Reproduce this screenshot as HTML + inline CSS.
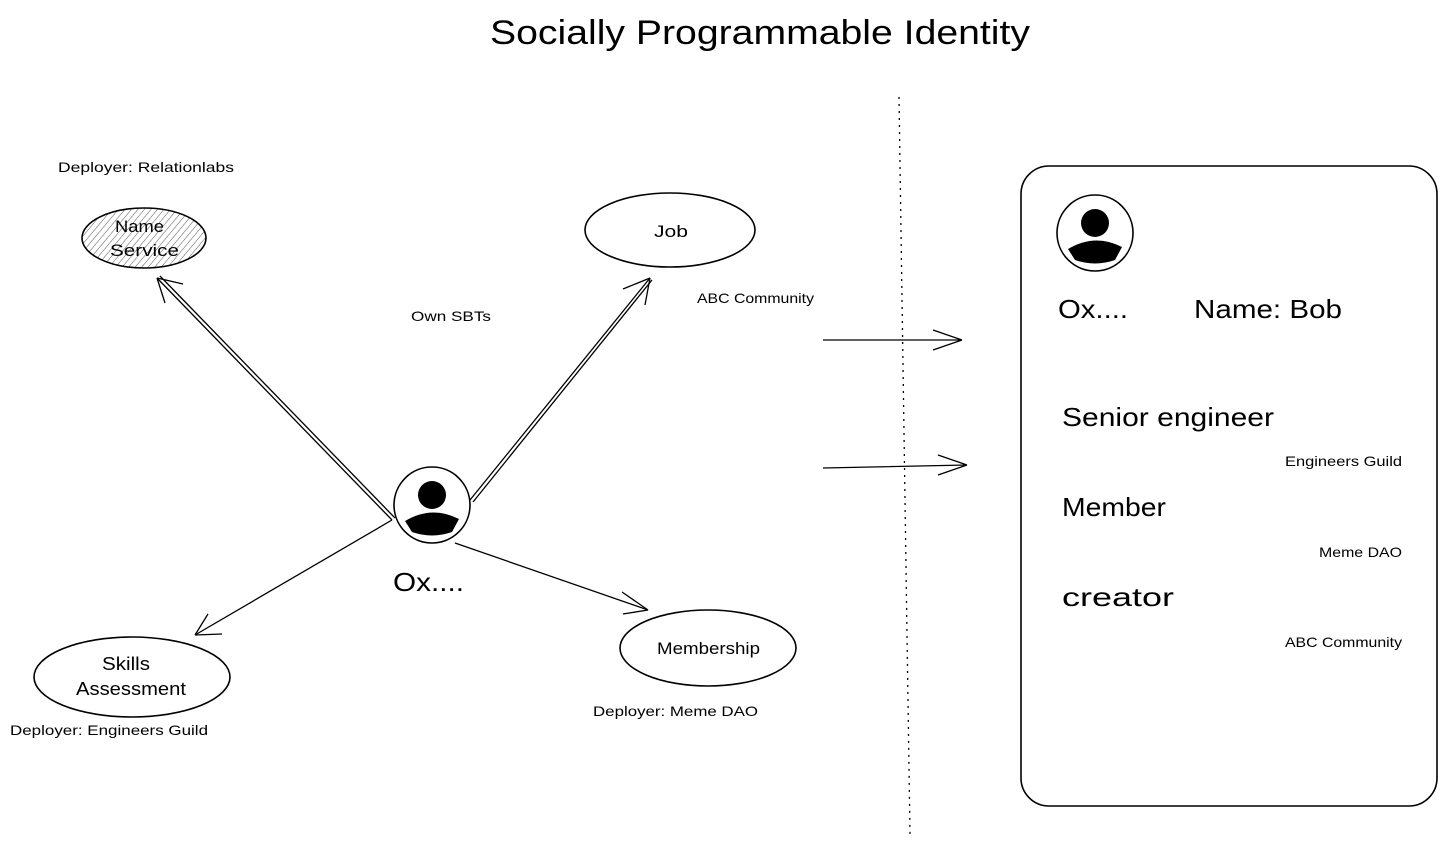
<!DOCTYPE html>
<html><head><meta charset="utf-8"><style>
html,body{margin:0;padding:0;background:#fff;}
svg{display:block;}
text{font-family:"Liberation Sans",sans-serif;fill:#000;}
</style></head><body>
<svg width="1446" height="846" viewBox="0 0 1446 846" xmlns="http://www.w3.org/2000/svg">
<defs>
<pattern id="h" width="5" height="5" patternUnits="userSpaceOnUse" patternTransform="rotate(40)">
<line x1="0" y1="0" x2="0" y2="5" stroke="#555" stroke-width="1"/>
</pattern>
<g id="av">
<circle cx="0" cy="0" r="38" fill="none" stroke="#000" stroke-width="1.6"/>
<circle cx="0" cy="-10" r="14" fill="#000"/>
<path d="M-27,16 Q0,0 27,14 L20,27 Q0,34 -20,27 Z" fill="#000"/>
</g>
</defs>
<text x="490" y="44" font-size="34" textLength="540" lengthAdjust="spacingAndGlyphs">Socially Programmable Identity</text>
<line x1="899" y1="97" x2="910" y2="835" stroke="#000" stroke-width="1.3" stroke-dasharray="2,5"/>

<ellipse cx="144" cy="238" rx="62" ry="30" fill="url(#h)" stroke="#000" stroke-width="1.6"/>
<text x="115" y="232" font-size="17" textLength="49" lengthAdjust="spacingAndGlyphs">Name</text>
<text x="110" y="256" font-size="17" textLength="69" lengthAdjust="spacingAndGlyphs">Service</text>
<text x="58" y="172" font-size="14" textLength="176" lengthAdjust="spacingAndGlyphs">Deployer: Relationlabs</text>

<ellipse cx="670" cy="230" rx="85" ry="37" fill="none" stroke="#000" stroke-width="1.6"/>
<text x="654" y="237" font-size="17" textLength="34" lengthAdjust="spacingAndGlyphs">Job</text>
<text x="697" y="303" font-size="14" textLength="117" lengthAdjust="spacingAndGlyphs">ABC Community</text>
<text x="411" y="321" font-size="14" textLength="80" lengthAdjust="spacingAndGlyphs">Own SBTs</text>

<ellipse cx="132" cy="677" rx="98" ry="40" fill="none" stroke="#000" stroke-width="1.6"/>
<text x="102" y="670" font-size="18" textLength="48" lengthAdjust="spacingAndGlyphs">Skills</text>
<text x="76" y="695" font-size="18" textLength="110" lengthAdjust="spacingAndGlyphs">Assessment</text>
<text x="10" y="735" font-size="14" textLength="198" lengthAdjust="spacingAndGlyphs">Deployer: Engineers Guild</text>

<ellipse cx="708" cy="648" rx="88" ry="38" fill="none" stroke="#000" stroke-width="1.6"/>
<text x="657" y="654" font-size="17" textLength="103" lengthAdjust="spacingAndGlyphs">Membership</text>
<text x="593" y="716" font-size="14" textLength="165" lengthAdjust="spacingAndGlyphs">Deployer: Meme DAO</text>

<g stroke="#000" stroke-width="1.3" fill="none">
<path d="M392,520 L157,278 M395,518 L160,276"/>
<path d="M157,278 L183,284 M157,278 L165,303"/>
<path d="M470,500 L650,278 M473,502 L652,280"/>
<path d="M650,278 L623,289 M650,278 L645,305"/>
<path d="M392,520 L195,635"/>
<path d="M195,635 L208,614 M195,635 L222,634"/>
<path d="M455,543 L648,610"/>
<path d="M648,610 L622,592 M648,610 L623,614"/>
<path d="M823,340 L962,340 M962,340 L933,330 M962,340 L933,350"/>
<path d="M823,468 L967,465 M967,465 L938,455 M967,465 L938,475"/>
</g>

<use href="#av" x="432" y="505"/>
<text x="393" y="591" font-size="26" textLength="71" lengthAdjust="spacingAndGlyphs">Ox....</text>

<rect x="1021" y="166" width="416" height="640" rx="28" fill="none" stroke="#000" stroke-width="1.6"/>
<use href="#av" x="1095" y="233"/>
<text x="1058" y="318" font-size="26" textLength="70" lengthAdjust="spacingAndGlyphs">Ox....</text>
<text x="1194" y="318" font-size="26" textLength="148" lengthAdjust="spacingAndGlyphs">Name: Bob</text>
<text x="1062" y="426" font-size="26" textLength="212" lengthAdjust="spacingAndGlyphs">Senior engineer</text>
<text x="1285" y="466" font-size="14" textLength="117" lengthAdjust="spacingAndGlyphs">Engineers Guild</text>
<text x="1062" y="516" font-size="26" textLength="104" lengthAdjust="spacingAndGlyphs">Member</text>
<text x="1319" y="557" font-size="14" textLength="83" lengthAdjust="spacingAndGlyphs">Meme DAO</text>
<text x="1062" y="606" font-size="26" textLength="112" lengthAdjust="spacingAndGlyphs">creator</text>
<text x="1285" y="647" font-size="14" textLength="117" lengthAdjust="spacingAndGlyphs">ABC Community</text>
</svg>
</body></html>
